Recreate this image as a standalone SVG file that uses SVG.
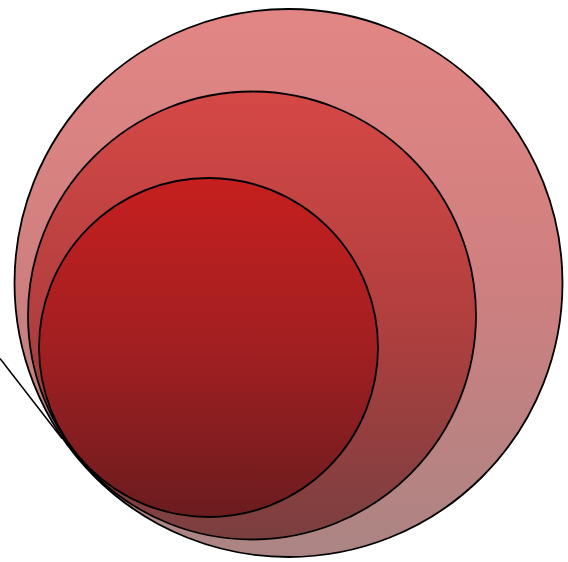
<svg xmlns="http://www.w3.org/2000/svg" width="568" height="562" viewBox="0 0 568 562">
  <defs>
    <linearGradient id="gOuter" x1="0" y1="0" x2="0" y2="1">
      <stop offset="0" stop-color="#e28685"/>
      <stop offset="0.5" stop-color="#cf7f7f"/>
      <stop offset="1" stop-color="#ab8584"/>
    </linearGradient>
    <linearGradient id="gMiddle" x1="0" y1="0" x2="0" y2="1">
      <stop offset="0" stop-color="#d54846"/>
      <stop offset="0.5" stop-color="#b23f3e"/>
      <stop offset="1" stop-color="#7a3f40"/>
    </linearGradient>
    <linearGradient id="gInner" x1="0" y1="0" x2="0" y2="1">
      <stop offset="0" stop-color="#c61f1f"/>
      <stop offset="0.5" stop-color="#a21f21"/>
      <stop offset="1" stop-color="#6b1c1f"/>
    </linearGradient>
  </defs>
  <style>
    .c { stroke: #000; stroke-width: 1.8; }
    .ln { stroke: #000; stroke-width: 1.5; fill: none; }
  </style>
  <g id="connectors">
    <line class="ln" x1="0" y1="358.5" x2="62" y2="438.5"/>
  </g>
  <g id="outer">
    <circle class="c" cx="288.5" cy="283" r="274" fill="url(#gOuter)"/>
  </g>
  <g id="middle">
    <circle class="c" cx="252" cy="315.5" r="224" fill="url(#gMiddle)"/>
  </g>
  <g id="inner">
    <circle class="c" cx="208.5" cy="347.5" r="169.5" fill="url(#gInner)"/>
  </g>
</svg>
